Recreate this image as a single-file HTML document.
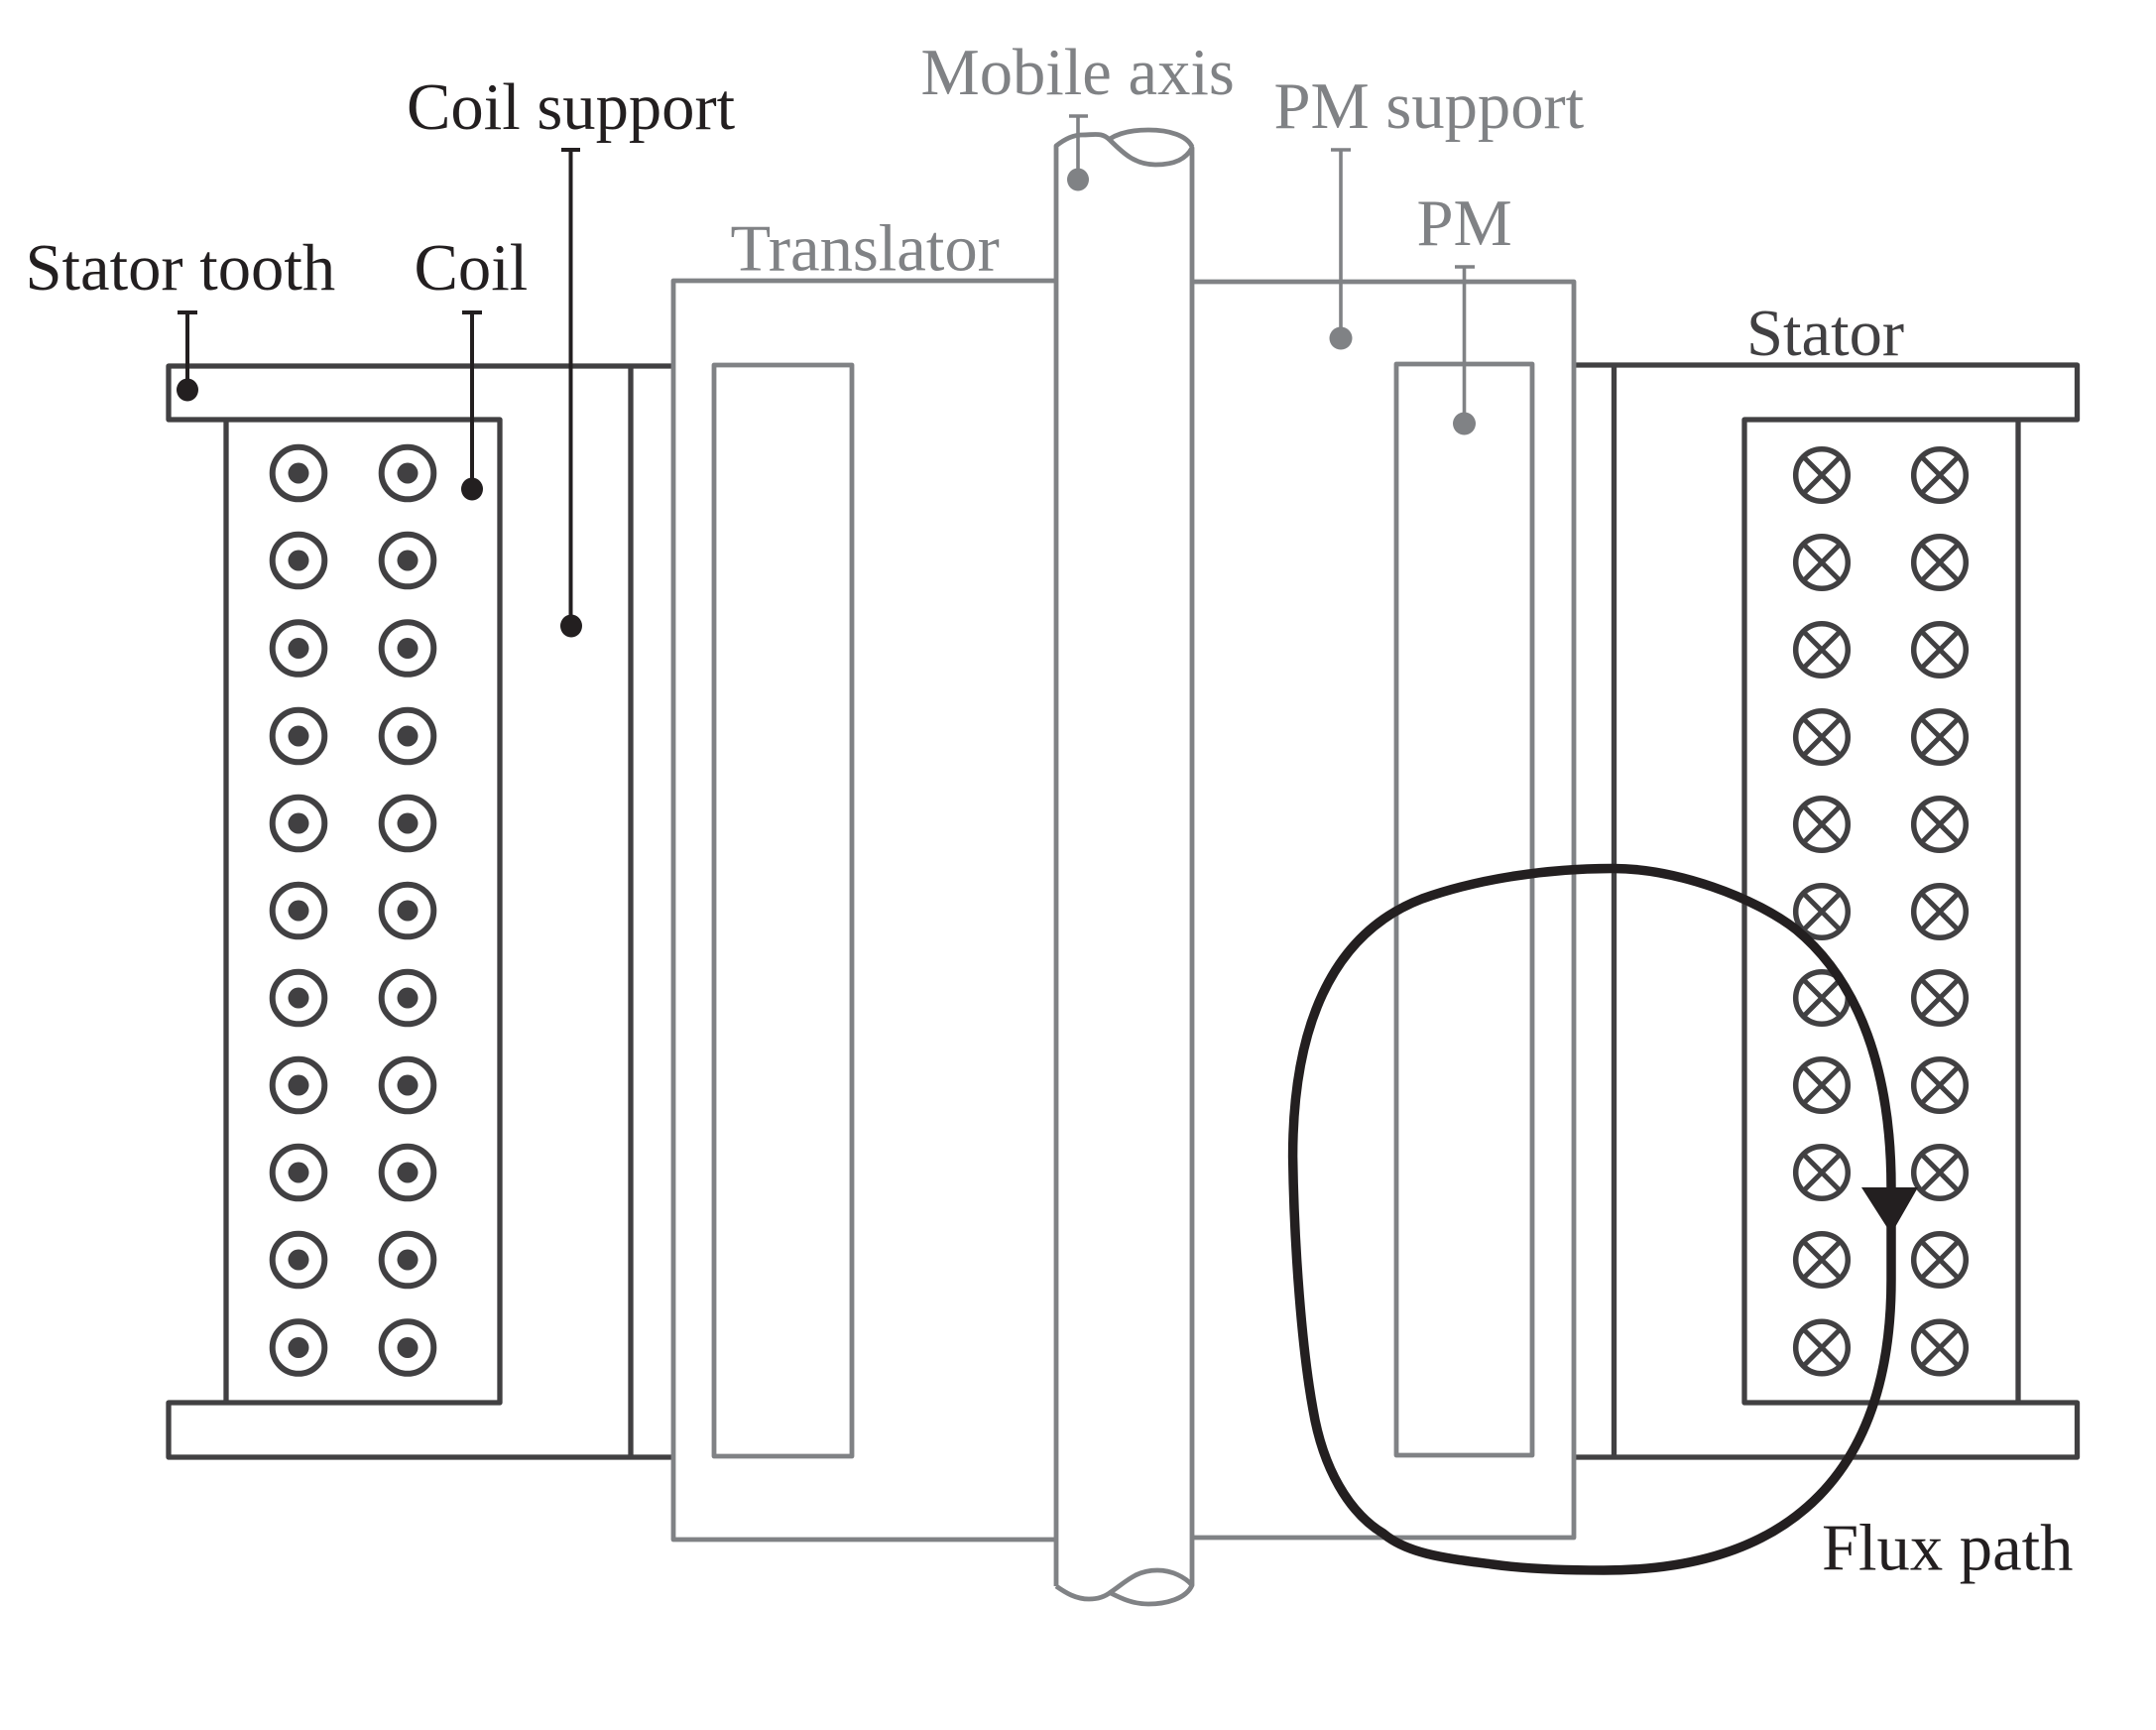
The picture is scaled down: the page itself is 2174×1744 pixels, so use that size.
<!DOCTYPE html>
<html><head><meta charset="utf-8"><style>
html,body{margin:0;padding:0;background:#fff}
svg{display:block}
text{font-family:"Liberation Serif",serif;font-size:66.6px}
</style></head><body>
<svg xmlns="http://www.w3.org/2000/svg" xmlns:xlink="http://www.w3.org/1999/xlink" width="2174" height="1744" viewBox="0 0 2174 1744">
<rect width="2174" height="1744" fill="#fff"/>
<defs>
<g id="o"><circle r="26.300" fill="none" stroke="#414042" stroke-width="6"/><circle r="10.500" fill="#414042"/></g>
<g id="x"><circle r="26.300" fill="none" stroke="#414042" stroke-width="5.500"/><path d="M-18.500,-18.500L18.500,18.500M-18.500,18.500L18.500,-18.500" stroke="#414042" stroke-width="5" fill="none"/></g>
</defs>
<!-- stator -->
<g fill="none" stroke="#414042" stroke-width="5.300" stroke-linejoin="round">
<path d="M679,369H170V423H504V1414H170V1469H679"/>
<path d="M228,423V1414M636,369V1469"/>
<path d="M1587,368H2094.500V423H1759V1414H2094.500V1469H1587"/>
<path d="M2035,423V1414M1627.500,368V1469"/>
</g>
<!-- translator -->
<g fill="none" stroke="#808285" stroke-width="4.800" stroke-linejoin="round">
<path d="M1064,283H679V1552H1064"/>
<path d="M1202,284H1587V1550H1202"/>
<path d="M720,368H859V1468H720Z"/>
<path d="M1408,367H1545V1467H1408Z"/>
<path d="M1065,1599V147C1075,139 1083,136 1091,136C1104,136 1111,133 1119,141C1133,155 1145,166 1165,166C1185,166 1196,160 1202,149V1598C1196,1612 1175,1617 1158,1617C1142,1617 1130,1611 1120,1606"/>
<path d="M1119,140C1130,133 1143,131 1158,131C1180,131 1197,137 1202,148"/>
<path d="M1065,1599C1075,1606 1085,1612 1098,1612C1108,1612 1115,1609 1120,1605C1135,1595 1145,1583 1167,1583C1182,1583 1195,1590 1202,1598"/>
</g>
<!-- coils -->
<g id="rows">
<use xlink:href="#o" x="301" y="477"/><use xlink:href="#o" x="411" y="477"/>
<use xlink:href="#o" x="301" y="565"/><use xlink:href="#o" x="411" y="565"/>
<use xlink:href="#o" x="301" y="653.500"/><use xlink:href="#o" x="411" y="653.500"/>
<use xlink:href="#o" x="301" y="742"/><use xlink:href="#o" x="411" y="742"/>
<use xlink:href="#o" x="301" y="830"/><use xlink:href="#o" x="411" y="830"/>
<use xlink:href="#o" x="301" y="918"/><use xlink:href="#o" x="411" y="918"/>
<use xlink:href="#o" x="301" y="1006"/><use xlink:href="#o" x="411" y="1006"/>
<use xlink:href="#o" x="301" y="1094"/><use xlink:href="#o" x="411" y="1094"/>
<use xlink:href="#o" x="301" y="1182"/><use xlink:href="#o" x="411" y="1182"/>
<use xlink:href="#o" x="301" y="1270"/><use xlink:href="#o" x="411" y="1270"/>
<use xlink:href="#o" x="301" y="1358.500"/><use xlink:href="#o" x="411" y="1358.500"/>
<use xlink:href="#x" x="1837" y="479"/><use xlink:href="#x" x="1956" y="479"/>
<use xlink:href="#x" x="1837" y="567"/><use xlink:href="#x" x="1956" y="567"/>
<use xlink:href="#x" x="1837" y="655"/><use xlink:href="#x" x="1956" y="655"/>
<use xlink:href="#x" x="1837" y="743"/><use xlink:href="#x" x="1956" y="743"/>
<use xlink:href="#x" x="1837" y="831"/><use xlink:href="#x" x="1956" y="831"/>
<use xlink:href="#x" x="1837" y="919"/><use xlink:href="#x" x="1956" y="919"/>
<use xlink:href="#x" x="1837" y="1006"/><use xlink:href="#x" x="1956" y="1006"/>
<use xlink:href="#x" x="1837" y="1094"/><use xlink:href="#x" x="1956" y="1094"/>
<use xlink:href="#x" x="1837" y="1182"/><use xlink:href="#x" x="1956" y="1182"/>
<use xlink:href="#x" x="1837" y="1270"/><use xlink:href="#x" x="1956" y="1270"/>
<use xlink:href="#x" x="1837" y="1358.500"/><use xlink:href="#x" x="1956" y="1358.500"/>
</g>
<!-- leaders black -->
<g fill="none" stroke="#231f20" stroke-width="4">
<path d="M189,314V393M179,315H199"/>
<path d="M476,314V493M466,315H486"/>
<path d="M575.500,151V631M566,151H585"/>
</g>
<g fill="#231f20">
<ellipse cx="189" cy="393" rx="11" ry="11.500"/>
<ellipse cx="476" cy="493" rx="11" ry="11.500"/>
<ellipse cx="576" cy="631" rx="11" ry="11.500"/>
</g>
<!-- leaders gray -->
<g fill="none" stroke="#808285" stroke-width="3.600">
<path d="M1087,117V181M1078,117H1097"/>
<path d="M1352,151V341M1342,151H1362"/>
<path d="M1476.500,269V427M1467,269H1487"/>
</g>
<g fill="#808285">
<ellipse cx="1087" cy="181" rx="11" ry="11.500"/>
<ellipse cx="1352" cy="341" rx="11.500" ry="11.500"/>
<ellipse cx="1476.500" cy="427" rx="11.500" ry="11.500"/>
</g>
<!-- flux path -->
<path fill="none" stroke="#231f20" stroke-width="9.500" d="M1625,875.500C1690,875 1770,905 1811,937C1875,990 1907,1080 1907,1197L1907,1290C1907,1480 1810,1583 1617,1583C1580,1583 1540,1582 1505,1577C1460,1571 1420,1567 1395,1546C1360,1525 1334,1480 1324,1421C1313,1361 1305,1260 1303.600,1166C1303.600,1040 1340,942 1434,906C1490,886 1560,875.500 1625,875.500Z"/>
<path d="M1877,1197H1934L1907,1244Z" fill="#231f20"/>
<!-- labels -->
<g fill="#231f20">
<text x="25.500" y="292">Stator tooth</text>
<text x="417.500" y="292">Coil</text>
<text x="410" y="130">Coil support</text>
<text x="1761" y="358" fill="#414042">Stator</text>
<text x="1837" y="1582.500">Flux path</text>
</g>
<g fill="#808285">
<text x="928.500" y="95">Mobile axis</text>
<text x="1284.500" y="129">PM support</text>
<text x="1428.500" y="247">PM</text>
<text x="736.500" y="272.500">Translator</text>
</g>
</svg>
</body></html>
